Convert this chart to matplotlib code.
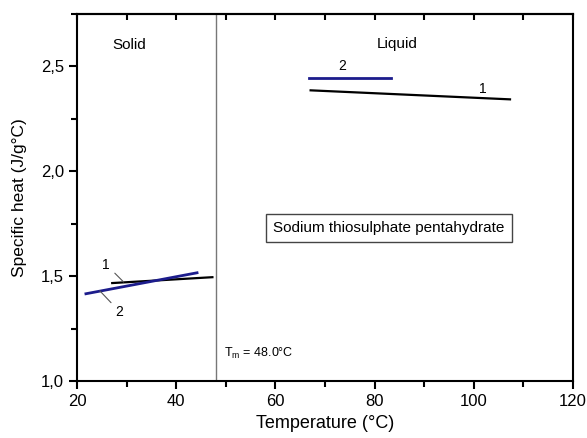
import matplotlib.pyplot as plt
from matplotlib.ticker import MultipleLocator, NullFormatter

plt.rcParams['font.family'] = ['Liberation Sans', 'DejaVu Sans']

# specific heat fits, solid and liquid phase (T in degC, cp in J/g degC)
solid1_t = [27.1, 47.3]
solid1_cp = [1.467, 1.495]
solid2_t = [21.8, 44.2]
solid2_cp = [1.416, 1.516]
liquid1_t = [67.1, 107.3]
liquid1_cp = [2.386, 2.343]
liquid2_t = [66.7, 83.4]
liquid2_cp = [2.447, 2.447]
t_melt = 48.0

fig = plt.figure(figsize=(5.87, 4.38), dpi=100)
ax = fig.add_axes([77/587, 1 - 381/438, (573-77)/587, (381-14)/438])

navy = '#1c1c8c'
ax.plot(solid1_t, solid1_cp, color='black', lw=1.6)
ax.plot(solid2_t, solid2_cp, color=navy, lw=2.0)
ax.plot(liquid1_t, liquid1_cp, color='black', lw=1.6)
ax.plot(liquid2_t, liquid2_cp, color=navy, lw=2.0)

ax.axvline(t_melt, color='#777777', lw=1.0)

# curve labels with leader lines
ax.annotate('1', xy=(29.4, 1.472), xytext=(25.9, 1.555), fontsize=10,
            ha='center', va='center',
            arrowprops=dict(arrowstyle='-', color='#555555', lw=0.8, shrinkB=0, shrinkA=2))
ax.annotate('2', xy=(24.6, 1.43), xytext=(28.6, 1.33), fontsize=10,
            ha='center', va='center',
            arrowprops=dict(arrowstyle='-', color='#555555', lw=0.8, shrinkB=0, shrinkA=2))
ax.text(73.5, 2.467, '2', fontsize=10, ha='center', va='bottom')
ax.text(101.8, 2.36, '1', fontsize=10, ha='center', va='bottom')

ax.text(30.5, 2.6, 'Solid', fontsize=11, ha='center', va='center')
ax.text(84.5, 2.605, 'Liquid', fontsize=11, ha='center', va='center')
ax.text(48.0 + 1.6, 1.13, r'T$_\mathregular{m}$ = 48.0°C', fontsize=9,
        ha='left', va='center')
ax.text(82.9, 1.73, 'Sodium thiosulphate pentahydrate', fontsize=11,
        ha='center', va='center',
        bbox=dict(boxstyle='square,pad=0.45', fc='white', ec='#444444', lw=1.0))

ax.set_xlim(20, 120)
ax.set_ylim(1.0, 2.75)
ax.xaxis.set_major_locator(MultipleLocator(20))
ax.xaxis.set_minor_locator(MultipleLocator(10))
ax.yaxis.set_major_locator(MultipleLocator(0.5))
ax.yaxis.set_minor_locator(MultipleLocator(0.25))
ax.yaxis.set_major_formatter(plt.FuncFormatter(lambda v, p: f'{v:.1f}'.replace('.', ',')))

ax.tick_params(which='both', direction='out', labelsize=12, width=1.5)
ax.tick_params(which='major', length=6)
ax.tick_params(which='minor', length=4)
for s in ax.spines.values():
    s.set_linewidth(1.5)

# small inward ticks along the top edge
top = ax.secondary_xaxis('top')
top.xaxis.set_major_locator(MultipleLocator(10))
top.xaxis.set_major_formatter(NullFormatter())
top.tick_params(direction='in', length=4, width=1.5)
top.spines['top'].set_linewidth(1.5)

ax.set_xlabel('Temperature (°C)', fontsize=13, labelpad=4)
ax.set_ylabel('Specific heat (J/g°C)', fontsize=12.5, labelpad=10)

fig.savefig('out.png', dpi=100)
